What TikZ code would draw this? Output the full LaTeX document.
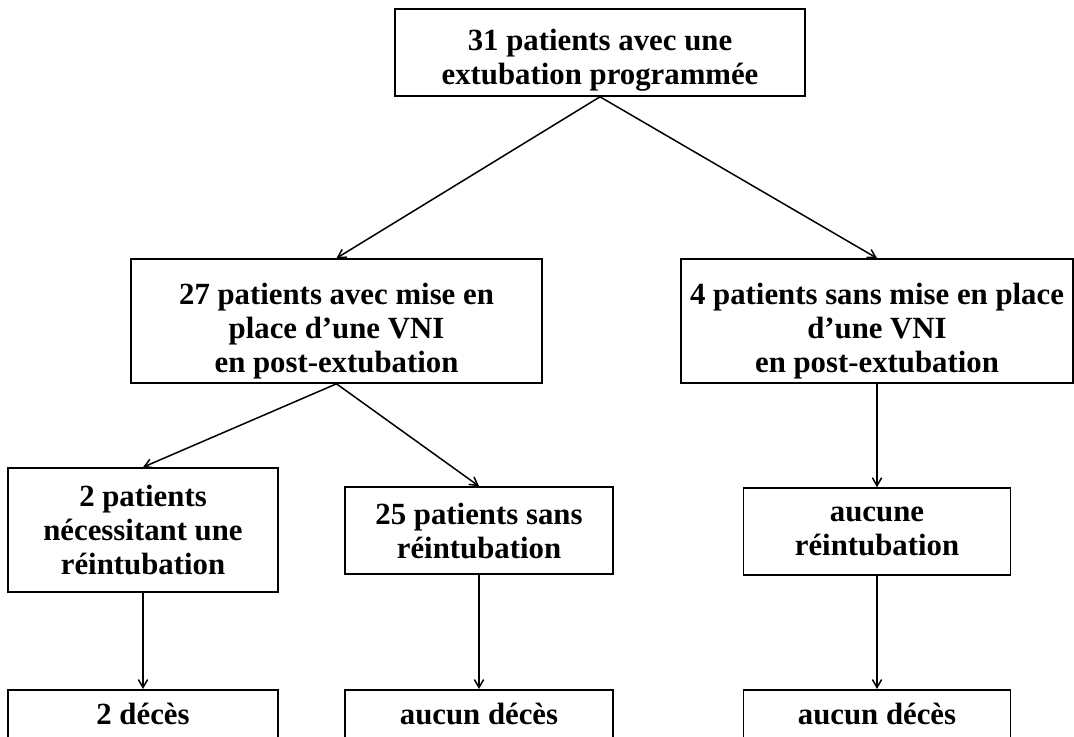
\documentclass[tikz,border=0pt]{standalone}
\usepackage{fontspec}
\setmainfont{Liberation Serif}
\usetikzlibrary{arrows}

\tikzset{
  box/.style={draw, line width=0.8pt, align=center, inner sep=0pt,
    font=\fontsize{15.4}{17}\selectfont\bfseries},
  endbox/.style={box, anchor=north, inner ysep=6pt, text height=11.5pt, text depth=40pt},
  link/.style={->, >=angle 60, line width=0.75pt},
}
% pushes the first line of a box down
\newcommand{\lowfirst}[1]{\rule{0pt}{#1}}

\begin{document}
\begin{tikzpicture}[x=0.5pt, y=-0.5pt]
\path[use as bounding box, clip] (0,0) rectangle (1074,736);
% top
\node[box, minimum width=205pt, minimum height=43.5pt] (total) at (600,52.5) {\lowfirst{18pt}31 patients avec une\\extubation programmée};
% second row
\node[box, minimum width=205.5pt, minimum height=62pt] (vni) at (336.5,321) {\lowfirst{21pt}27 patients avec mise en\\place d’une VNI\\en post-extubation};
\node[box, minimum width=196pt, minimum height=62pt] (novni) at (877,321) {\lowfirst{21pt}4 patients sans mise en place\\d’une VNI\\en post-extubation};
% third row
\node[box, minimum width=135pt, minimum height=62pt] (reint) at (143,530) {2 patients\\nécessitant une\\réintubation};
\node[box, minimum width=134pt, minimum height=43.5pt] (noreint) at (479,530.5) {25 patients sans\\réintubation};
\node[box, minimum width=133.5pt, minimum height=43.5pt] (noreintb) at (877,531.5) {aucune\\réintubation};
% last row
\node[endbox, minimum width=135pt] (deces) at (143,689) {2 décès};
\node[endbox, minimum width=134pt] (nodeces) at (479,689) {aucun décès};
\node[endbox, minimum width=133.5pt] (nodecesb) at (877,689) {aucun décès};

\draw[link] (total.south) -- (vni.north);
\draw[link] (total.south) -- (novni.north);
\draw[link] (vni.south) -- (reint.north);
\draw[link] (vni.south) -- (noreint.north);
\draw[link] (novni.south) -- (noreintb.north);
\draw[link] (reint.south) -- (deces.north);
\draw[link] (noreint.south) -- (nodeces.north);
\draw[link] (noreintb.south) -- (nodecesb.north);
\end{tikzpicture}
\end{document}
